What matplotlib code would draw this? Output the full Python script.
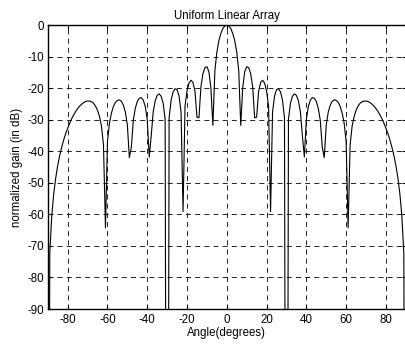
import numpy as np
import matplotlib
matplotlib.use("Agg")
import matplotlib.pyplot as plt

plt.rcParams['font.family'] = ['Liberation Sans', 'DejaVu Sans']
plt.rcParams['axes.unicode_minus'] = False
plt.rcParams['lines.scale_dashes'] = False

# angle grid (1 degree steps)
angle = np.arange(-90, 91)

# normalized gain in dB, 0..90 deg
# (-300 = null, falls off the bottom of the plot)
gain_pos = [0.0, -0.3, -1.1, -2.7, -5.0, -8.6, -14.5, -31.8, -20.0, -14.8,
            -13.2, -13.5, -15.4, -19.5, -29.4, -29.2, -21.0, -18.2, -17.5, -18.4,
            -20.9, -25.7, -59.1, -27.6, -22.5, -20.5, -20.2, -21.2, -23.8, -29.4,
            -300, -29.9, -24.8, -22.6, -21.8, -22.3, -24.0, -27.5, -35.1, -41.8,
            -29.9, -25.8, -23.8, -23.0, -23.2, -24.2, -26.4, -30.2, -38.7, -42.0,
            -31.6, -27.6, -25.4, -24.2, -23.7, -23.9, -24.5, -25.8, -27.9, -31.1,
            -36.9, -64.3, -38.0, -32.1, -29.0, -27.0, -25.7, -24.8, -24.3, -24.1,
            -24.1, -24.2, -24.6, -25.1, -25.7, -26.5, -27.4, -28.5, -29.7, -31.1,
            -32.7, -34.4, -36.4, -38.7, -41.3, -44.5, -48.4, -53.4, -60.4, -72.4,
            -300]
# -90..-1 deg
gain_neg = [-300, -72.4, -60.4, -53.4, -48.4, -44.5, -41.3, -38.7, -36.4, -34.4,
            -32.7, -31.1, -29.7, -28.5, -27.4, -26.5, -25.7, -25.1, -24.6, -24.2,
            -24.1, -24.1, -24.3, -24.8, -25.7, -27.0, -29.0, -32.1, -38.0, -64.3,
            -36.9, -31.1, -27.9, -25.8, -24.5, -23.9, -23.7, -24.2, -25.4, -27.6,
            -31.6, -42.0, -38.7, -30.2, -26.4, -24.2, -23.2, -23.0, -23.8, -25.8,
            -29.9, -41.8, -35.1, -27.5, -24.0, -22.3, -21.8, -22.6, -24.8, -29.9,
            -300, -29.4, -23.8, -21.2, -20.2, -20.5, -22.5, -27.6, -59.1, -25.7,
            -20.9, -18.4, -17.5, -18.2, -21.0, -29.2, -29.4, -19.5, -15.4, -13.5,
            -13.2, -14.8, -20.0, -31.8, -14.5, -8.6, -5.0, -2.7, -1.1, -0.3]
gain = np.array(gain_neg + gain_pos)

xticks = [-80, -60, -40, -20, 0, 20, 40, 60, 80]
yticks = [0, -10, -20, -30, -40, -50, -60, -70, -80, -90]

fig = plt.figure(figsize=(4.05, 3.5), dpi=100)
ax = fig.add_axes([0.118, 0.1171, 0.884, 0.8114])

ax.plot(angle, gain, color='k', lw=0.8)

ax.set_xlim(-90, 90)
ax.set_ylim(-90, 0)
ax.set_xticks(xticks)
ax.set_yticks(yticks)
ax.grid(True, color='k', lw=0.6, linestyle=(0, (3.6, 3.0)))
ax.tick_params(direction='in', top=True, right=True, length=3, width=0.8,
               labelsize=8.3, pad=3.5)
ax.tick_params(axis='y', pad=2.8)
for s in ax.spines.values():
    s.set_linewidth(1.0)

ax.set_title('Uniform Linear Array', fontsize=8.3, pad=4.5)
ax.set_xlabel('Angle(degrees)', fontsize=8.3, labelpad=1)
ax.set_ylabel('normalized gain (in dB)', fontsize=8.3)
ax.yaxis.set_label_coords(-0.068, 0.5)

fig.savefig('out.png', dpi=100)
